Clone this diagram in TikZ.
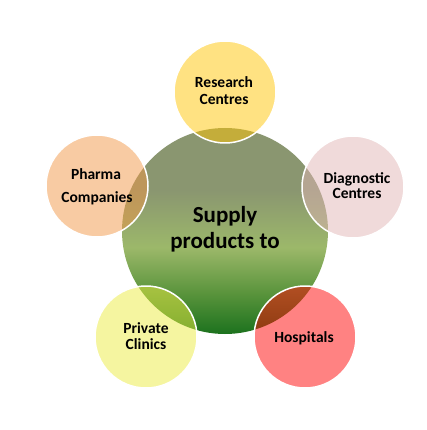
\documentclass[tikz,border=0pt]{standalone}
\usepackage{fontspec}
\setmainfont{Carlito}
\definecolor{gtop}{RGB}{138,150,112}
\definecolor{gmid}{RGB}{156,184,106}
\definecolor{glow}{RGB}{90,148,60}
\definecolor{gbot}{RGB}{28,114,30}
\definecolor{cres}{RGB}{255,197,5}
\definecolor{cpha}{RGB}{241,151,71}
\definecolor{cdia}{RGB}{225,181,181}
\definecolor{cpri}{RGB}{235,235,65}
\definecolor{chos}{RGB}{255,5,5}
\pgfdeclareverticalshading{hubshade}{100bp}{color(0bp)=(gbot); color(25bp)=(gbot); color(35bp)=(glow); color(46bp)=(gmid); color(60bp)=(gtop); color(75bp)=(gtop); color(100bp)=(gtop)}
\begin{document}
\begin{tikzpicture}[x=1pt,y=-1pt,
  hub/.style={circle,minimum size=206pt,inner sep=0pt,shading=hubshade},
  sat/.style={circle,minimum size=102pt,inner sep=0pt,draw=white,line width=1.5pt,fill opacity=0.5},
  lbl/.style={font=\fontsize{15.5}{17}\selectfont\bfseries,anchor=base,inner sep=0pt,text=black},
  big/.style={font=\fontsize{23}{26}\selectfont\bfseries,anchor=base,inner sep=0pt,text=black}]
\useasboundingbox (0,0) rectangle (426,430);
\node[hub] (hub) at (225,231) {};
\node[sat,fill=cres] (res) at (225,92) {};
\node[sat,fill=cpha] (pha) at (97,186) {};
\node[sat,fill=cdia] (dia) at (353,187) {};
\node[sat,fill=cpri] (pri) at (146,337) {};
\node[sat,fill=chos] (hos) at (305,337) {};
\node[big] (hubA) at (225,222) {Supply};
\node[big] (hubB) at (225,248) {products to};
\node[lbl] (resA) at (224,88) {Research};
\node[lbl] (resB) at (224,105) {Centres};
\node[lbl] (phaA) at (96,179) {Pharma};
\node[lbl] (phaB) at (97,202) {Companies};
\node[lbl] (diaA) at (357,183) {Diagnostic};
\node[lbl] (diaB) at (357,198) {Centres};
\node[lbl] (priA) at (146,333) {Private};
\node[lbl] (priB) at (146,349) {Clinics};
\node[lbl] (hosA) at (304,342) {Hospitals};
\end{tikzpicture}
\end{document}
